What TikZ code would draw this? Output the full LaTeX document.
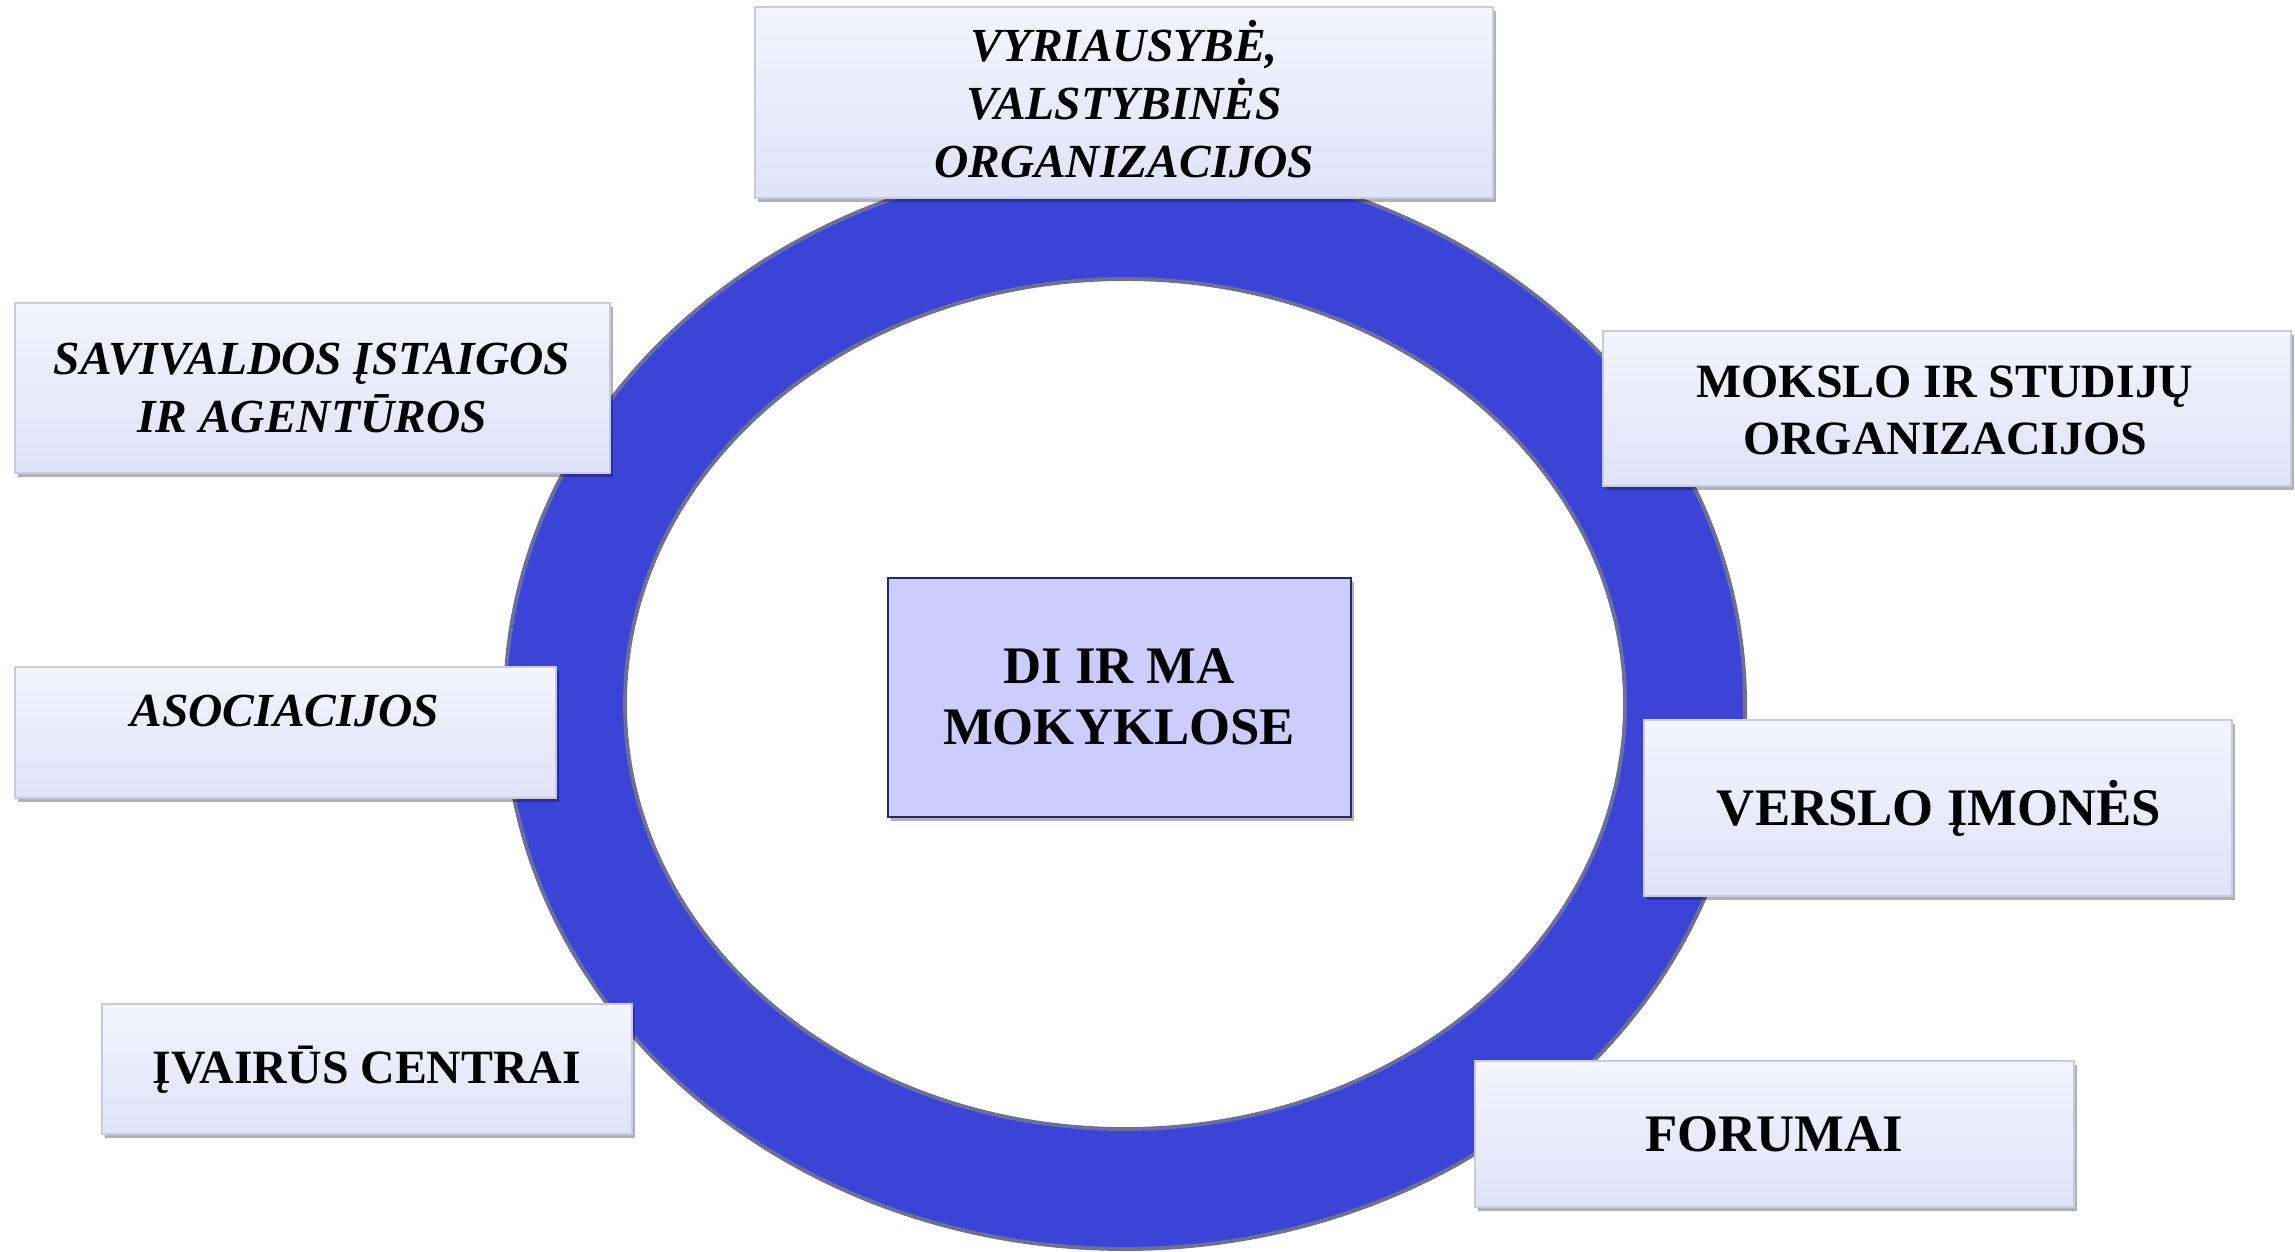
\documentclass[tikz,border=0pt]{standalone}
\usepackage{fontspec}
\setmainfont{Liberation Serif}
\usetikzlibrary{shadows}
\definecolor{ringblue}{RGB}{59,68,214}
\definecolor{ringedge}{RGB}{108,110,156}
\definecolor{boxtop}{RGB}{244,244,253}
\definecolor{boxbot}{RGB}{224,227,248}
\definecolor{boxedge}{RGB}{200,202,228}
\definecolor{centerfill}{RGB}{204,204,255}
\definecolor{centeredge}{RGB}{40,40,100}
\tikzset{
  outbox/.style={rectangle, inner sep=0pt, draw=boxedge, line width=0.6pt,
    top color=boxtop, bottom color=boxbot,
    drop shadow={shadow xshift=0.9pt, shadow yshift=-1.2pt, opacity=0.3, fill=black}},
  midbox/.style={rectangle, inner sep=0pt, draw=centeredge, line width=0.7pt, fill=centerfill,
    drop shadow={shadow xshift=0.9pt, shadow yshift=-1.2pt, opacity=0.3, fill=black}},
  itlbl/.style={align=center, inner sep=0pt, font=\fontsize{13.5}{16.5}\selectfont\bfseries\itshape},
  uplbl/.style={align=center, inner sep=0pt, font=\fontsize{13.6}{16.2}\selectfont\bfseries},
  biglbl/.style={align=center, inner sep=0pt, font=\fontsize{15}{17.4}\selectfont\bfseries}
}
\begin{document}
\begin{tikzpicture}[x=0.01cm, y=-0.01cm]
\useasboundingbox (0,0) rectangle (2295,1251);
% ring
\path[fill=ringblue, even odd rule] (1125,704) ellipse [x radius=620, y radius=545]
  (1125,704) ellipse [x radius=500, y radius=425];
\draw[ringedge, line width=1.1pt] (1125,704) ellipse [x radius=620, y radius=545];
\draw[ringedge, line width=1.1pt] (1125,704) ellipse [x radius=500, y radius=425];
% boxes
\node[outbox, minimum width=7.38cm, minimum height=1.91cm] (btop) at (1124,102.5) {};
\node[itlbl] (ttop) at (1124,99) {VYRIAUSYBĖ,\\VALSTYBINĖS\\ORGANIZACIJOS};
\node[outbox, minimum width=5.95cm, minimum height=1.70cm] (bsav) at (312.5,388) {};
\node[itlbl] (tsav) at (312,388) {SAVIVALDOS ĮSTAIGOS\\IR AGENTŪROS};
\node[outbox, minimum width=5.41cm, minimum height=1.31cm] (baso) at (285.5,732.5) {};
\node[itlbl] (taso) at (285,711) {ASOCIACIJOS};
\node[outbox, minimum width=5.30cm, minimum height=1.30cm] (biva) at (367,1069) {};
\node[uplbl] (tiva) at (367,1070) {ĮVAIRŪS CENTRAI};
\node[outbox, minimum width=6.88cm, minimum height=1.55cm] (bmok) at (1947,408.5) {};
\node[uplbl] (tmok) at (1945,410) {MOKSLO IR STUDIJŲ\\ORGANIZACIJOS};
\node[outbox, minimum width=5.88cm, minimum height=1.76cm] (bver) at (1938,808) {};
\node[biglbl] (tver) at (1939,808) {VERSLO ĮMONĖS};
\node[outbox, minimum width=5.99cm, minimum height=1.46cm] (bfor) at (1774.5,1134) {};
\node[biglbl] (tfor) at (1774,1134) {FORUMAI};
\node[midbox, minimum width=4.63cm, minimum height=2.39cm] (bmid) at (1119.5,697.5) {};
\node[biglbl] (tmid) at (1119,697) {DI IR MA\\MOKYKLOSE};
\end{tikzpicture}
\end{document}
